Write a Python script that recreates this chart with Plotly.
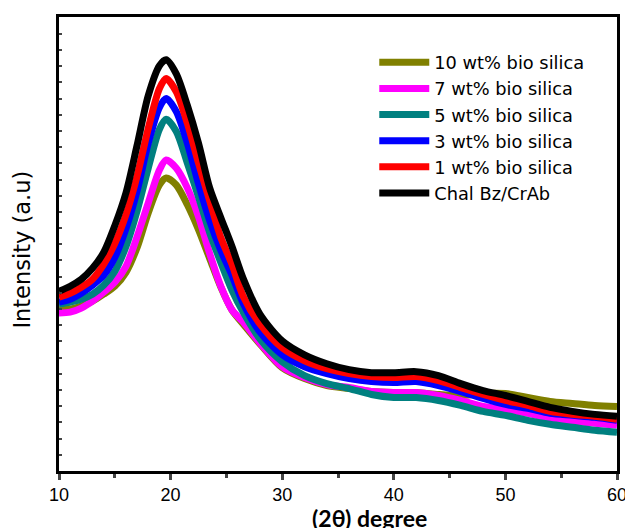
import plotly.graph_objects as go

two_theta = [10, 11, 12, 13, 14, 15, 16, 17, 18, 19, 19.6, 20.5, 21.5, 22.5, 23.5, 24.5, 25.5, 26.5,
             28, 30, 32, 34, 36, 38, 40, 42, 44, 46, 48, 50, 52, 54, 56, 58, 60]

# intensities (a.u.)
silica_10 = [164, 163, 166, 171, 178, 186, 200, 225, 260, 288, 295, 288, 268, 243, 214, 185, 162, 148,
             128, 104, 93, 86, 83, 80, 79, 79, 77, 76, 78, 78, 74, 70, 68, 66, 65]
silica_7 = [159, 160, 164, 171, 180, 190, 206, 236, 270, 303, 313, 305, 285, 256, 219, 186, 162, 150,
            129, 105, 94, 87, 84, 80, 79, 79, 76, 71, 65, 62, 58, 53, 50, 48, 46]
silica_5 = [168, 170, 173, 178, 187, 201, 226, 262, 305, 344, 354, 342, 310, 276, 240, 210, 182, 160,
            133, 110, 96, 88, 83, 77, 74, 74, 71, 66, 60, 56, 51, 47, 44, 41, 39]
silica_3 = [170, 173, 179, 187, 197, 215, 244, 282, 330, 366, 375, 362, 330, 289, 252, 222, 197, 169,
            140, 117, 105, 98, 93, 90, 89, 90, 86, 80, 73, 67, 63, 58, 56, 54, 51]
silica_1 = [175, 179, 185, 193, 208, 229, 258, 297, 345, 385, 395, 382, 350, 310, 272, 235, 208, 176,
            148, 124, 111, 103, 98, 95, 94, 95, 91, 84, 77, 71, 66, 60, 57, 55, 52]
chal = [181, 186, 193, 204, 220, 247, 280, 328, 378, 408, 414, 400, 368, 330, 285, 255, 226, 194,
        158, 131, 117, 108, 102, 99, 99, 100, 96, 88, 81, 76, 70, 64, 60, 57, 55]

series = [
    ('10 wt% bio silica', silica_10, '#808000'),
    ('7 wt% bio silica', silica_7, '#ff00ff'),
    ('5 wt% bio silica', silica_5, '#008080'),
    ('3 wt% bio silica', silica_3, '#0000ff'),
    ('1 wt% bio silica', silica_1, '#ff0000'),
    ('Chal Bz/CrAb', chal, '#000000'),
]

fig = go.Figure()
for name, vals, col in series:
    fig.add_trace(go.Scatter(x=two_theta, y=vals, name=name, mode='lines',
                             line=dict(color=col, width=7, shape='spline', smoothing=0.8)))

# the page body has an 8px margin, so the figure is made 8px smaller
fig.update_layout(
    width=625, height=520,
    margin=dict(l=51, r=12, t=6, b=57),
    plot_bgcolor='white', paper_bgcolor='white',
    font=dict(family='Liberation Sans, Arial', color='black'),
    legend=dict(x=0.565, y=0.94, xanchor='left', yanchor='top', itemwidth=50,
                font=dict(family='DejaVu Sans', size=17.8), bgcolor='rgba(0,0,0,0)'),
    showlegend=True,
)
fig.update_xaxes(range=[10, 60], dtick=10, ticks='outside', ticklen=6, tickwidth=2.5,
                 minor=dict(dtick=5, ticks='outside', ticklen=4, tickwidth=2.5),
                 showline=True, linewidth=2.5, linecolor='black', mirror=True,
                 showgrid=False, zeroline=False, tickfont=dict(size=18))
fig.update_yaxes(range=[0, 457], dtick=16.3, ticks='inside', ticklen=3, tickwidth=1.5,
                 showticklabels=False, showline=True, linewidth=2.5, linecolor='black',
                 mirror=True, showgrid=False, zeroline=False)

fig.add_annotation(text='<b>(2θ) degree</b>', xref='paper', yref='paper', x=0.557, y=-0.103,
                   xanchor='center', yanchor='middle', showarrow=False,
                   font=dict(family='Lato', size=23, color='black'))
fig.add_annotation(text='Intensity (a.u)', xref='paper', yref='paper', x=-0.066, y=0.488,
                   xanchor='center', yanchor='middle', textangle=-90, showarrow=False,
                   font=dict(family='DejaVu Sans', size=22.5, color='black'))

fig.write_html("out.html")
